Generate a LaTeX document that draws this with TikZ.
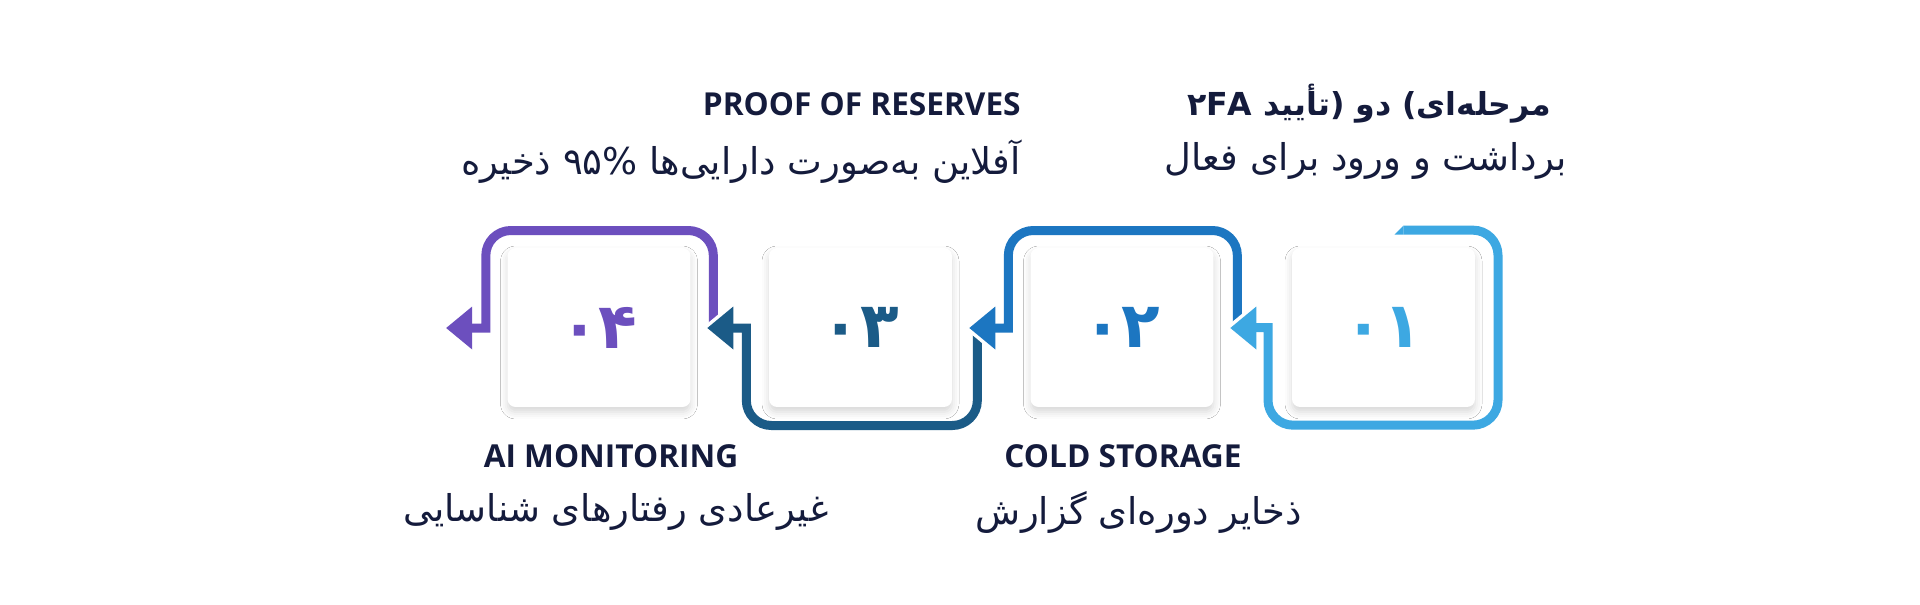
\documentclass[tikz,border=0pt]{standalone}
\usepackage{fontspec}
\usetikzlibrary{calc,shadows.blur}
\TeXXeTstate=1
\newfontfamily\farsi[Script=Arabic]{DejaVu Sans}
\newfontfamily\headfont{Open Sans}
\definecolor{stepone}{HTML}{3DA8E2}
\definecolor{steptwo}{HTML}{1C76C1}
\definecolor{stepthree}{HTML}{1B5B87}
\definecolor{stepfour}{HTML}{6C4FBE}
\definecolor{ink}{HTML}{141B3C}
\tikzset{card/.style={
            fill=white,
            rounded corners=0.16cm,
            minimum width=3.66cm,
            minimum height=3.18cm,
            inner sep=0pt,
            blur shadow={shadow xshift=0pt, shadow yshift=-0.1cm, shadow blur radius=0.14cm, shadow opacity=16},
            font=\farsi\bfseries\fontsize{36}{40}\selectfont
        },
        steptitle/.style={
            font=\headfont\bfseries\fontsize{18}{21}\selectfont,
            text=ink,
            inner sep=0pt
        },
        stepnote/.style={
            font=\farsi\fontsize{21}{25}\selectfont,
            text=ink,
            inner sep=0pt
        },
        flowline/.style={
            line width=0.18cm,
            rounded corners=0.5cm
        },
        knockout/.style={
            fill=white
        }
    }

\begin{document}
\begin{tikzpicture}[x=0.02cm,y=-0.02cm]
        \useasboundingbox[fill=white] (0,0) rectangle (1920,605);
        % cards
        \node[card,text=stepone] (card1) at (1383.5,327.5) {۰۱};
        \node[card,text=steptwo] (card2) at (1122,327.5) {۰۲};
        \node[card,text=stepthree] (card3) at (860.5,327.5) {۰۳};
        \node[card,text=stepfour] (card4) at (599,327.5) {۰۴};
        \coordinate (exit) at ($(card4.west)+(-61,0.5)$);
        % step 4
        \fill[knockout] ($(exit)+(-5.5,0)$) -- ++(31.5,-26) -- ++(0,52) -- cycle;
        \fill[stepfour] (exit) -- ++(26,-21.5) -- ++(0,43) -- cycle;
        \draw[flowline,stepfour] ($(card4.east)+(22.5,0.5)$) -- ++(0,-97.5) -- ++(-227.5,0) [sharp corners] -- ++(0,97.5) -- ++(-15,0);
        % step 3
        \fill[knockout] ($(card4.east)+(11,0.5)$) -- ++(31.5,-26) -- ++(0,52) -- cycle;
        \fill[stepthree] ($(card4.east)+(16.5,0.5)$) -- ++(26,-21.5) -- ++(0,43) -- cycle;
        \draw[flowline,stepthree] ($(card3.east)+(25,0.5)$) -- ++(0,97.5) -- ++(-231,0) [sharp corners] -- ++(0,-97.5) -- ++(-15,0);
        % step 2
        \fill[knockout] ($(card3.east)+(11.5,0.5)$) -- ++(31.5,-26) -- ++(0,52) -- cycle;
        \fill[steptwo] ($(card3.east)+(17,0.5)$) -- ++(26,-21.5) -- ++(0,43) -- cycle;
        \draw[flowline,steptwo] ($(card2.east)+(23.5,0.5)$) -- ++(0,-97.5) -- ++(-229,0) [sharp corners] -- ++(0,97.5) -- ++(-15,0);
        % step 1
        \fill[knockout] ($(card2.east)+(11,0.5)$) -- ++(31.5,-26) -- ++(0,52) -- cycle;
        \fill[stepone] ($(card2.east)+(16.5,0.5)$) -- ++(26,-21.5) -- ++(0,43) -- cycle;
        \coordinate (entry) at ($(card1.north)+(20,-17.5)$);
        \fill[stepone] ($(entry)+(0,-4.5)$) -- ++(0,9) -- ++(-9,0) -- cycle;
        \draw[flowline,stepone] (entry) -- ++(94.5,0) -- ++(0,195) -- ++(-230,0) [sharp corners] -- ++(0,-97.5) -- ++(-14,0);
        % labels
        \node[steptitle,font=\farsi\bfseries\fontsize{18}{21}\selectfont] (name1) at (1369,104) {\beginR مرحله‌ای) دو (تأیید ۲FA\endR};
        \node[stepnote] (note1) at (1366,161) {\beginR برداشت و ورود برای فعال\endR};
        \node[steptitle] (name2) at (1123,456) {COLD STORAGE};
        \node[stepnote] (note2) at (1139,512) {\beginR ذخایر دوره‌ای گزارش\endR};
        \node[steptitle,anchor=east] (name3) at (1021,104) {PROOF OF RESERVES};
        \node[stepnote,anchor=east] (note3) at (1021,162) {\beginR آفلاین به‌صورت دارایی‌ها ۹۵\% ذخیره\endR};
        \node[steptitle] (name4) at (611,456) {AI MONITORING};
        \node[stepnote] (note4) at (616,512) {\beginR غیرعادی رفتارهای شناسایی\endR};
\end{tikzpicture}
\end{document}
